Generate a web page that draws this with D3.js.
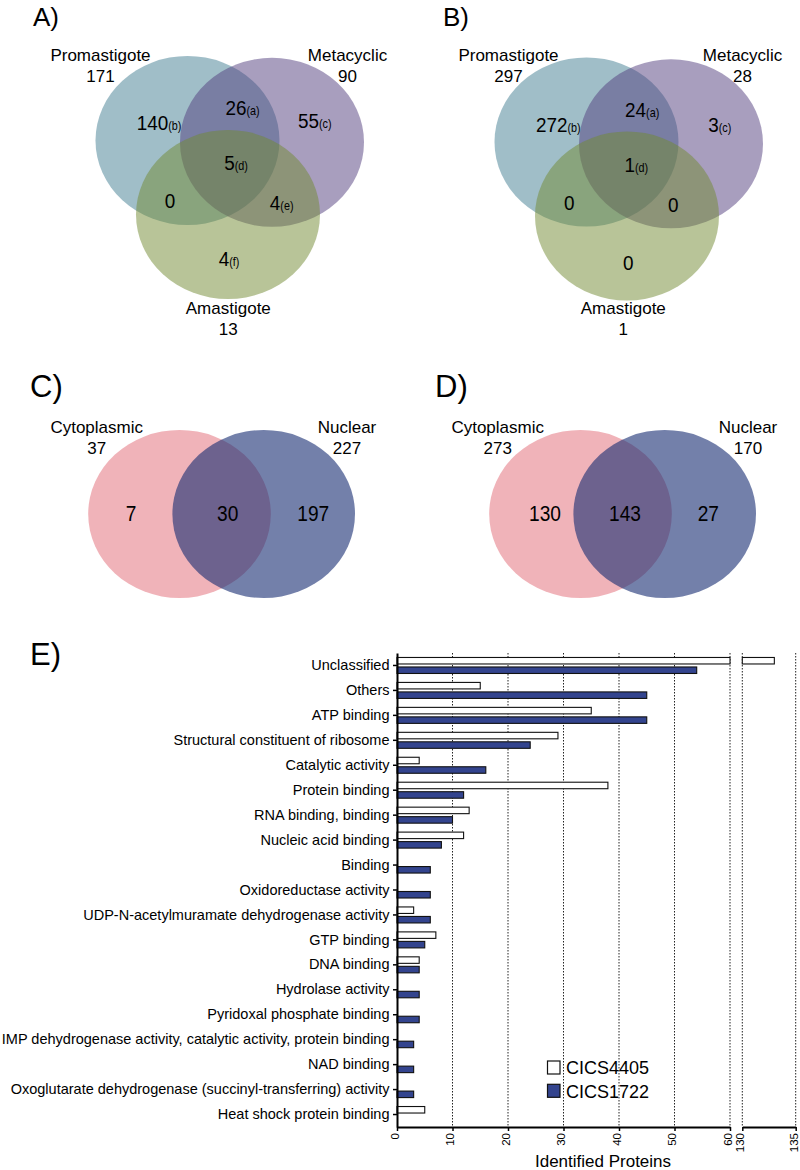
<!DOCTYPE html>
<html><head><meta charset="utf-8">
<script src="https://cdn.jsdelivr.net/npm/d3@7/dist/d3.min.js"></script>
<style>
body{margin:0;background:#fff}
svg{display:block}
text{font-family:"Liberation Sans",Arial,Helvetica,sans-serif;fill:#000}
</style>
</head><body>
<svg id="chart" width="800" height="1170"></svg>
<script>
// ---------------- DATA ----------------
// Panel A / B : three-set Venn (Promastigote, Metacyclic, Amastigote)
const venn3Sets = ["Promastigote", "Metacyclic", "Amastigote"];
const vennATotals = [171, 90, 13];
const vennARegions = [["140","(b)"], ["26","(a)"], ["55","(c)"], ["5","(d)"], ["0",""], ["4","(e)"], ["4","(f)"]];
const vennBTotals = [297, 28, 1];
const vennBRegions = [["272","(b)"], ["24","(a)"], ["3","(c)"], ["1","(d)"], ["0",""], ["0",""], ["0",""]];
// Panel C / D : two-set Venn (Cytoplasmic, Nuclear)
const venn2Sets = ["Cytoplasmic", "Nuclear"];
const vennCTotals = [37, 227];
const vennCRegions = [7, 30, 197];
const vennDTotals = [273, 170];
const vennDRegions = [130, 143, 27];
// Panel E : grouped horizontal bars
const categories = [
  "Unclassified", "Others", "ATP binding", "Structural constituent of ribosome",
  "Catalytic activity", "Protein binding", "RNA binding, binding", "Nucleic acid binding",
  "Binding", "Oxidoreductase activity", "UDP-N-acetylmuramate dehydrogenase activity",
  "GTP binding", "DNA binding", "Hydrolase activity", "Pyridoxal phosphate binding",
  "IMP dehydrogenase activity, catalytic activity, protein binding", "NAD binding",
  "Oxoglutarate dehydrogenase (succinyl-transferring) activity", "Heat shock protein binding"
];
const cics4405 = [133, 15, 35, 29, 4, 38, 13, 12, 0, 0, 3, 7, 4, 0, 0, 0, 0, 0, 5];
const cics1722 = [54, 45, 45, 24, 16, 12, 10, 8, 6, 6, 6, 5, 4, 4, 4, 3, 3, 3, 0];
const seriesNames = ["CICS4405", "CICS1722"];
const ticksLow = [0, 10, 20, 30, 40, 50, 60];
const ticksHigh = [130, 135];
const axisBreak = [60, 130];
const xTitle = "Identified Proteins";
const panelLetters = ["A)", "B)", "C)", "D)", "E)"];

// ---------------- LAYOUT / STYLE ----------------
const svg = d3.select("#chart");
const venn3Colors = ["rgb(65,125,145)", "rgb(81,61,125)", "rgb(113,137,49)"];
const venn2Colors = ["rgb(230,128,138)", "rgb(22,43,113)"];

// panel letters
const letterPos = [[33, 26, 26], [443, 26, 26], [30, 397, 31], [435, 397, 31], [30, 665, 31]];
panelLetters.forEach((t, i) => {
  svg.append("text").attr("x", letterPos[i][0]).attr("y", letterPos[i][1])
    .style("font-size", letterPos[i][2] + "px").text(t);
});

// ---- three-set venns ----
const venn3Ellipses = [[187.5, 140.5], [272, 142.3], [228, 214.5]];
const venn3R = [92, 84.5];
function drawVenn3(ox, oy, totals, regions, labelPos, regionPos) {
  const g = svg.append("g").attr("transform", `translate(${ox},${oy})`);
  g.selectAll("ellipse").data(venn3Ellipses).join("ellipse")
    .attr("cx", d => d[0]).attr("cy", d => d[1])
    .attr("rx", venn3R[0]).attr("ry", venn3R[1])
    .attr("fill", (d, i) => venn3Colors[i]).attr("fill-opacity", 0.5);
  venn3Sets.forEach((s, i) => {
    g.append("text").attr("x", labelPos[i][0]).attr("y", labelPos[i][1])
      .attr("text-anchor", "middle").style("font-size", "17px").text(s);
    g.append("text").attr("x", labelPos[i][0]).attr("y", labelPos[i][1] + 21)
      .attr("text-anchor", "middle").style("font-size", "17px").text(totals[i]);
  });
  regions.forEach((r, i) => {
    const t = g.append("text")
      .attr("transform", `translate(${regionPos[i][0]},${regionPos[i][1]}) scale(0.9,1)`)
      .attr("text-anchor", "middle");
    t.append("tspan").style("font-size", "21px").text(r[0]);
    if (r[1]) t.append("tspan").style("font-size", "12px").text(r[1]);
  });
}
drawVenn3(0, 0, vennATotals, vennARegions,
  [[100.5, 61], [347.5, 61], [228.3, 314]],
  [[159, 130], [242.5, 115], [314.7, 128.3], [236, 170], [170, 208.3], [281.7, 210], [229, 266]]);
drawVenn3(399, 1.5, vennBTotals, vennBRegions,
  [[109.5, 59.5], [343.5, 59.5], [224.3, 312.5]],
  [[159.3, 130.2], [243.2, 115.2], [320.7, 130.2], [237.3, 170.2], [170.3, 208.5], [274.3, 210.2], [229.3, 268.5]]);

// ---- two-set venns ----
const venn2Ellipses = [[179.5, 514], [263.7, 514]];
const venn2R = [91.3, 84];
function drawVenn2(ox, totals, regions, regionX) {
  const g = svg.append("g").attr("transform", `translate(${ox},0)`);
  g.selectAll("ellipse").data(venn2Ellipses).join("ellipse")
    .attr("cx", d => d[0]).attr("cy", d => d[1])
    .attr("rx", venn2R[0]).attr("ry", venn2R[1])
    .attr("fill", (d, i) => venn2Colors[i]).attr("fill-opacity", 0.6);
  const lx = [96.7, 347];
  venn2Sets.forEach((s, i) => {
    g.append("text").attr("x", lx[i]).attr("y", 433.3)
      .attr("text-anchor", "middle").style("font-size", "17px").text(s);
    g.append("text").attr("x", lx[i]).attr("y", 454)
      .attr("text-anchor", "middle").style("font-size", "17px").text(totals[i]);
  });
  regions.forEach((r, i) => {
    g.append("text").attr("transform", `translate(${regionX[i]},520.7) scale(0.87,1)`)
      .attr("text-anchor", "middle").style("font-size", "22px").text(r);
  });
}
drawVenn2(0, vennCTotals, vennCRegions, [131, 227.7, 313.3]);
drawVenn2(401, vennDTotals, vennDRegions, [144, 224, 307.3]);

// ---------------- BAR CHART ----------------
const plotTop = 653, plotBottom = 1127;
const xLow = d3.scaleLinear().domain([0, axisBreak[0]]).range([397, 730]);
const xHigh = d3.scaleLinear().domain([axisBreak[1], 135]).range([742.3, 795.7]);
const y = d3.scaleBand().domain(categories).range([plotTop, plotBottom]);
const g = svg.append("g");

// gridlines
const gridVals = ticksLow.slice(1).map(v => xLow(v)).concat(ticksHigh.map(v => xHigh(v)));
g.selectAll("line.grid").data(gridVals).join("line").attr("class", "grid")
  .attr("x1", d => d).attr("x2", d => d).attr("y1", plotTop).attr("y2", plotBottom)
  .attr("stroke", "#222").attr("stroke-width", 1).attr("stroke-dasharray", "1.5,1.5");

// bars
function segs(v) {
  if (v <= axisBreak[0]) return [[xLow(0), xLow(v)]];
  return [[xLow(0), xLow(axisBreak[0])], [xHigh(axisBreak[1]), xHigh(v)]];
}
const barData = [];
categories.forEach((c, i) => {
  const cy = y(c) + y.bandwidth() / 2;
  [cics4405[i], cics1722[i]].forEach((v, s) => {
    if (v > 0) segs(v).forEach(sg => barData.push({ x0: sg[0], x1: sg[1], y0: s === 0 ? cy - 8 : cy + 1.5, s }));
  });
});
g.selectAll("rect.bar").data(barData).join("rect").attr("class", "bar")
  .attr("x", d => d.x0).attr("width", d => d.x1 - d.x0)
  .attr("y", d => d.y0).attr("height", 6.5)
  .attr("fill", d => d.s === 0 ? "#ffffff" : "#33448e")
  .attr("stroke", "#111").attr("stroke-width", 1.1);

// left axis
const yAxis = g.append("g").attr("transform", `translate(${xLow(0)},0)`)
  .call(d3.axisLeft(y).tickSize(4).tickSizeOuter(0).tickPadding(3.5));
yAxis.select(".domain").attr("stroke-width", 2);
yAxis.selectAll(".tick line").attr("stroke-width", 1.5);
yAxis.selectAll("text").style("font-size", "14.5px").style("font-family", '"Liberation Sans",Arial,sans-serif');

// bottom axes (broken)
function bottomAxis(scale, vals) {
  const a = g.append("g").attr("transform", `translate(0,${plotBottom})`)
    .call(d3.axisBottom(scale).tickValues(vals).tickFormat(d3.format("d")).tickSize(4).tickSizeOuter(0));
  a.select(".domain").attr("stroke-width", 2);
  a.selectAll(".tick line").attr("stroke-width", 1.5);
  a.selectAll("text").attr("transform", "rotate(-90)").attr("x", -6).attr("y", 0)
    .attr("dy", "0.12em").style("text-anchor", "end").style("font-size", "11.5px")
    .style("font-family", '"Liberation Sans",Arial,sans-serif');
}
bottomAxis(xLow, ticksLow);
bottomAxis(xHigh, ticksHigh);

g.append("text").attr("x", 603).attr("y", 1166.5).attr("text-anchor", "middle")
  .style("font-size", "17px").text(xTitle);

// legend
const legend = g.append("g").attr("transform", "translate(547.5,1061)");
seriesNames.forEach((n, i) => {
  legend.append("rect").attr("x", 0).attr("y", i * 23.3).attr("width", 12.5).attr("height", 13)
    .attr("fill", i === 0 ? "#fff" : "#33448e").attr("stroke", "#111").attr("stroke-width", 1.2);
  legend.append("text").attr("x", 18.5).attr("y", i * 23.3 + 13.3).style("font-size", "18px").text(n);
});
</script>
</body></html>
